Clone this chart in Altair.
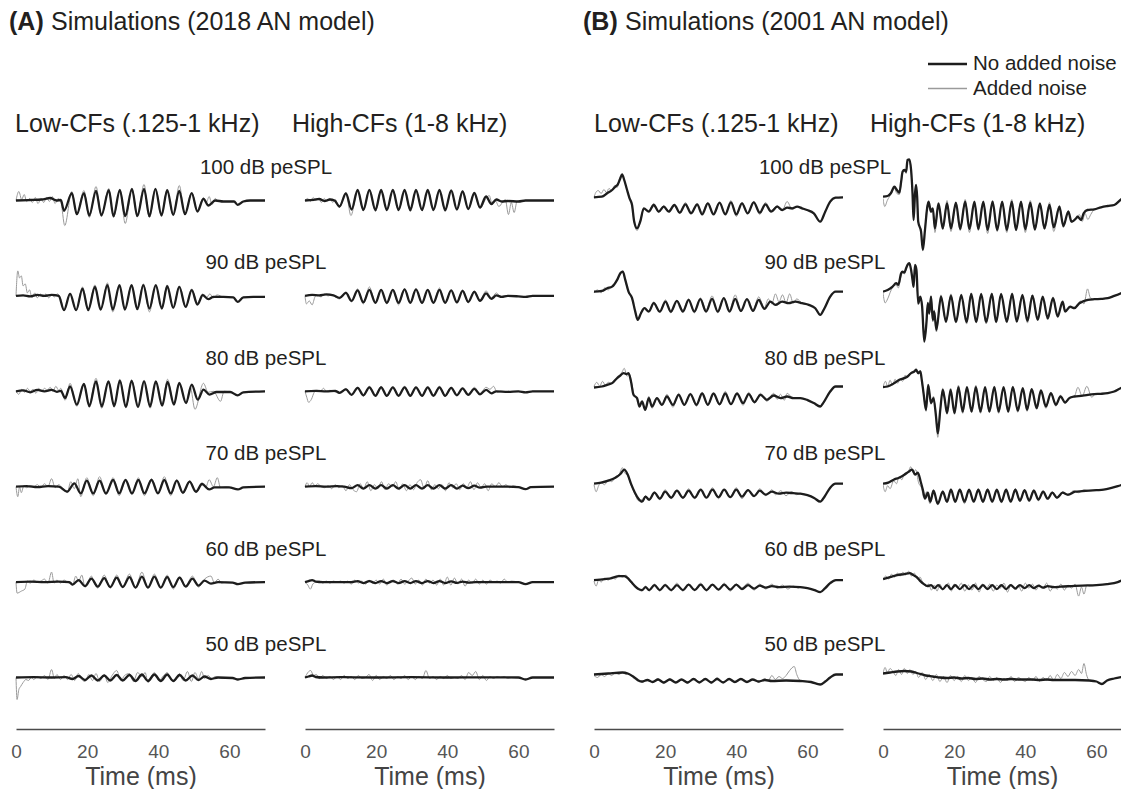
import altair as alt
import pandas as pd

FONT = "Liberation Sans"
LEVELS = [100, 90, 80, 70, 60, 50]
XTICKS = [0, 20, 40, 60]

# ---------- (A) 2018 model, low CFs: (time ms, deflection) ----------
AL100_K = [(0,0),(3.9,.5),(7.2,1),(9.6,2.5),(11.4,0),(12.6,.5),(13.5,-10.3),(15.7,7.3),(17.1,-13.7),(19.1,7.3),(20.6,-15),(22.5,9.7),(24.0,-15),(26.1,10.3),(27.4,-15.7),(29.2,10.7),(30.7,-15.7),(32.6,11.7),(34.1,-15.7),(36.0,11.7),(37.5,-15.7),(39.2,11.7),(40.9,-15),(42.5,10.3),(44.2,-14.3),(45.9,9.7),(47.5,-13.7),(49.4,7.3),(51.0,-11),(52.7,1.7),(54.1,-5),(56.0,0),(58.3,-1),(61.3,-1),(62.3,-4.3),(63.9,-1),(65.8,0),(70,0)]
AL100_G = [(0,0),(.8,9),(1.6,1),(2.3,6),(3.0,-1),(3.8,2),(4.6,-2),(5.4,3),(6.2,-3),(7.0,2),(7.8,-2),(8.6,3),(9.4,-1),(10.2,4),(11.0,-3),(11.8,2),(12.6,-1),(13.7,-25),(15.7,9),(17.1,-14),(19.1,10),(20.6,-17),(22.5,14),(24.0,-15),(26.1,12),(27.4,-17),(29.2,11),(30.7,-23),(32.6,12),(34.1,-15),(36.0,16),(37.5,-17),(39.2,12),(40.9,-15),(42.5,11),(44.2,-15),(45.9,15),(47.5,-14),(49.4,8),(51.0,-10),(52.7,3),(53.5,-2),(54.3,4),(55.1,-4),(56.0,2),(57.0,-1),(58.3,-1),(61.3,-1),(62.3,-4.3),(63.9,-1),(65.8,0),(70,0)]
AL90_K = [(0,0),(2,.5),(4,-.5),(6,1),(8,0),(10,1),(12,0),(13.5,-14.3),(15.2,2),(16.9,-14.3),(18.7,7.3),(20.3,-14.3),(22.2,9),(23.8,-13.7),(25.7,10.7),(27.2,-13.7),(29.1,10.7),(30.6,-13.7),(32.5,10.7),(34.1,-13.3),(35.8,10.7),(37.5,-12.7),(39.3,10.7),(41.0,-12.7),(42.5,9.7),(44.2,-12),(45.9,9),(47.7,-11),(49.4,5.7),(51.0,-8.7),(52.5,.7),(54.1,-3.3),(55.5,-1),(58.3,-1),(61.1,-1.5),(62.3,-6),(63.9,-1.5),(66.7,-1),(70,-1)]
AL90_G = [(0,0),(.5,25),(1.0,18),(1.5,20),(2.0,10),(2.6,12),(3.2,3),(3.8,6),(4.5,-2),(5.3,3),(6.0,-2),(6.8,2),(7.6,-1),(8.4,2),(9.2,-2),(10,1),(10.8,-1),(11.6,2),(12.4,-1),(13.5,-15),(15.2,3),(16.9,-15),(18.7,9),(20.3,-14),(22.2,11),(23.8,-14),(25.7,13),(27.2,-16),(29.1,10),(30.6,-14),(32.5,11),(34.1,-13),(35.8,12),(37.5,-16),(39.3,10),(41.0,-12),(42.5,11),(44.2,-12),(45.9,10),(47.7,-12),(49.4,7),(51.0,-7),(52.5,2),(53.5,-2),(54.5,2),(55.5,-2),(56.5,1),(58.3,-1),(61.1,-1.5),(62.3,-6),(63.9,-1.5),(66.7,-1),(70,-1)]
AL80_K = [(0,0),(2,1),(4,-1),(6,1.5),(8,0),(10,1.5),(11.5,-.5),(12.6,.5),(13.8,-6.7),(15.2,5),(17.1,-13.3),(19.1,7.3),(20.6,-15),(22.5,10),(24.1,-15),(26.0,10),(27.6,-15),(29.2,10.7),(30.9,-15.7),(32.5,10.7),(34.3,-15.7),(36.0,10),(37.7,-15),(39.3,10),(41.1,-14.3),(42.6,9.3),(44.4,-13.3),(45.9,8.3),(47.8,-11.7),(49.4,6.7),(51.1,-8.3),(52.7,1.7),(54.4,-3.3),(56.4,-.7),(60.2,-.7),(62.3,-4),(63.9,-1),(70,0)]
AL80_G = [(0,0),(.8,-3),(1.6,2),(2.4,-1),(3.2,3),(4,0),(4.8,2),(5.6,-2),(6.4,3),(7.2,0),(8,3),(8.8,1),(9.6,4),(10.4,0),(11.2,5),(12,1),(12.6,3),(13.8,-9),(15.2,8),(17.1,-15),(19.1,8),(20.6,-13),(22.5,13),(24.1,-17),(26.0,10),(27.6,-14),(29.2,12),(30.9,-16),(32.5,11),(34.3,-14),(36.0,11),(37.7,-17),(39.3,10),(41.1,-13),(42.6,12),(44.4,-12),(45.9,8),(47.8,-12),(49.0,4),(50.3,-18),(52.7,8),(54.0,-1),(55.5,0),(57.5,-10),(58.5,0),(60.2,-.7),(62.3,-4),(63.9,-1),(70,0)]
AL70_K = [(0,0),(3,.5),(6,-.5),(9,.5),(12,0),(14.4,-5),(16.4,3.3),(18.2,-6.7),(19.9,6),(21.7,-6.7),(23.5,6),(25.3,-6.7),(27.3,6.7),(29.0,-6.7),(30.8,6.7),(32.6,-6.7),(34.4,6.7),(36.1,-6.7),(38.1,6.7),(39.9,-6.7),(41.7,6.7),(43.5,-6.7),(45.2,6),(46.9,-6),(48.8,5),(50.6,-5),(52.3,2.7),(54.3,-2.7),(55.8,-.7),(59.9,-.7),(62.4,-2.7),(63.9,-.7),(70,0)]
AL70_G = [(0,0),(.5,-10),(1.0,0),(1.5,-6),(2.2,1),(3,-1),(4,1),(5,0),(6,2),(7,-1),(8,3),(9,0),(10,8),(11,-1),(12,2),(13,-1),(14.4,-6),(15.4,5),(16.4,-2),(17.4,8),(18.2,-10),(19.9,9),(21.7,-9),(23.5,10),(25.3,-8),(27.3,9),(29.0,-9),(30.8,7),(32.6,-8),(34.4,9),(36.1,-9),(38.1,8),(39.9,-7),(41.7,10),(43.5,-9),(45.2,7),(46.9,-7),(48.8,6),(50.6,-6),(52.3,4),(53.3,-1),(54.3,7),(55.5,0),(56.6,9),(57.5,-1),(59,0),(62.4,-2.7),(63.9,-.7),(70,0)]
AL60_K = [(0,0),(4,.5),(8,0),(12,.5),(15,0),(15.9,-2.5),(17.6,2),(19.4,-4),(21.2,3.5),(23.0,-4.5),(24.8,4),(26.5,-5),(28.3,4.5),(30.0,-5),(31.9,5),(33.6,-5.5),(35.4,5.5),(37.1,-5.5),(38.9,5.5),(40.7,-5.5),(42.5,5),(44.2,-5),(46.0,4.5),(47.7,-4.5),(49.6,3.5),(51.3,-3.5),(53.0,1.5),(54.8,-1.5),(56.8,0),(60.9,-.5),(62.4,-2),(64.4,-.5),(70,0)]
AL60_G = [(0,0),(.3,-11),(1.5,-9),(2.5,-7),(3.2,1),(4,-1),(5,2),(6,0),(7,1),(8,3),(9,-1),(10,10),(10.7,-1),(11.5,2),(12.5,-1),(13.5,2),(14.5,0),(15.9,-3),(16.8,6),(17.6,1),(18.5,7),(19.4,-5),(21.2,6),(22,-1),(23,-6),(24.8,7),(26.5,-6),(28.3,7),(30.0,-4),(31.9,8),(33.6,-6),(35.4,10),(37.1,-6),(38.9,8),(40.7,-6),(42.5,7),(44.2,-7),(46.0,5),(47.7,-4),(49.6,6),(51.3,-5),(53,3),(54.8,6),(55.8,-1),(56.8,3),(57.8,-1),(59,0),(60.9,-.5),(62.4,-2),(64.4,-.5),(70,0)]
AL50_K = [(0,0),(5,.3),(10,0),(14,.3),(15.9,-1.5),(17.6,1.5),(19.4,-2.5),(21.2,2),(23.0,-3),(24.8,2),(26.5,-3),(28.3,2.5),(30.0,-3),(31.9,2.5),(33.6,-3.5),(35.4,3),(37.1,-3.5),(38.9,3),(40.7,-3.5),(42.5,3),(44.2,-3.5),(46.0,2.5),(47.7,-3),(49.6,2),(51.3,-2.5),(53.0,1),(54.8,-1.5),(56.8,0),(60.9,-.5),(62.4,-2),(64.4,-.5),(70,0)]
AL50_G = [(0,0),(.3,-22),(.8,-12),(1.3,-9),(2,-5),(2.8,-2),(3.5,-3),(4.3,0),(5,-2),(6,1),(7,-1),(8,2),(9,-2),(10,8),(10.8,-1),(11.5,3),(12.5,-2),(13.5,2),(14.5,-2),(15.5,3),(16.5,-3),(17.5,4),(18.5,-2),(19.4,-4),(20.5,3),(21.5,-3),(22.5,4),(23.5,-4),(24.8,3),(25.8,-5),(27,2),(28.3,7),(29.5,-3),(30.5,2),(31.9,4),(33,-4),(34.2,5),(35.4,1),(36.3,5),(37.1,-5),(38.9,5),(40.2,-3),(41.5,2),(42.5,5),(43.5,-2),(44.5,-4),(46,4),(47,-3),(48.2,6),(49.3,-4),(50.3,5),(51.3,-1),(52.2,6),(53,-1),(54,2),(55,-1),(56,1),(57,0),(58,-1),(60,0),(62.4,-2),(64.4,-.5),(70,0)]

# ---------- (A) 2018 model, high CFs ----------
AH100_K = [(0,0),(2.5,.7),(4,1.5),(5.5,-.5),(7,1),(8.3,0),(9.7,-6),(11.5,7),(13.1,-9),(14.8,10.5),(16.4,-9.5),(18.1,10.5),(19.8,-9.5),(21.4,10.5),(23.0,-9.5),(24.7,10.5),(26.3,-9.5),(28.0,10.5),(29.6,-9.5),(31.2,10.5),(32.9,-9.5),(34.5,10.5),(36.1,-9.5),(37.8,10.5),(39.4,-9.5),(41.1,10),(42.7,-9),(44.3,9),(45.9,-8.5),(47.6,7.5),(49.2,-7),(50.9,4),(52.4,-3.5),(53.8,1),(55.3,-1),(57,-.5),(60,-1),(62,0),(70,0)]
AH100_G = [(0,0),(.8,2),(1.5,-1),(2.3,3),(3,0),(3.8,2),(4.6,-2),(5.4,2),(6.2,-1),(7,2),(7.8,-2),(8.5,1),(9.7,-7),(11.5,8),(12.9,-15),(14.8,10),(16.4,-10),(18.1,11),(19.8,-11),(21.4,10),(23.0,-10),(24.7,11),(26.3,-10),(28.0,10),(29.6,-11),(31.2,10),(32.9,-10),(34.5,11),(36.1,-9),(37.8,10),(39.4,-11),(41.1,9),(42.7,-9),(44.3,10),(45.9,-9),(47.6,6),(49.2,-8),(50.9,2),(51.8,5),(52.5,-2),(53.5,0),(54.5,-6),(55.5,-2),(56.3,1),(57.2,-14),(58.0,-2),(58.8,-12),(59.6,-1),(61,0),(70,0)]
AH90_K = [(0,0),(2,1),(4,.5),(6,1.5),(8,.5),(9.7,-2),(11.5,3),(13.1,-5),(14.8,5.5),(16.4,-6.5),(18.1,6),(19.8,-7),(21.4,6),(23.0,-7),(24.7,6),(26.3,-7),(28.0,6.5),(29.6,-7),(31.2,6.5),(32.9,-7),(34.5,6),(36.1,-7),(37.8,6),(39.4,-7),(41.1,5.5),(42.7,-6.5),(44.3,5),(45.9,-6),(47.6,4),(49.2,-5),(50.9,2.5),(52.4,-3),(53.8,.5),(55.3,-1),(57,0),(60,-.5),(62,-1),(64,0),(70,0)]
AH90_G = [(0,0),(.4,-8),(1.2,-5),(2,-9),(2.8,-1),(3.5,1),(4.5,-1),(5.5,2),(6.5,0),(7.5,1),(8.5,-1),(9.7,-3),(11.5,4),(13.1,-6),(14.8,7),(16.4,-8),(18.1,9),(19.8,-7),(21.4,6),(23.0,-8),(24.7,6),(26.3,-9),(28.0,7),(29.6,-7),(31.2,7),(32.9,-8),(34.5,6),(36.1,-7),(37.8,8),(39.4,-7),(41.1,6),(42.7,-6),(44.3,6),(45.9,-7),(47.6,5),(49.2,-4),(50.9,5),(52.4,-2),(53.8,3),(55,-1),(56.5,0),(60,-.5),(62,-1),(64,0),(70,0)]
AH80_K = [(0,0),(3,.5),(6,0),(8.5,.5),(9.7,-1.5),(11.5,2),(13.1,-3.5),(14.8,3.5),(16.4,-4),(18.1,4),(19.8,-4.5),(21.4,4),(23.0,-4.5),(24.7,4),(26.3,-4.5),(28.0,4),(29.6,-4.5),(31.2,4),(32.9,-4.5),(34.5,4),(36.1,-4.5),(37.8,4),(39.4,-4.5),(41.1,3.5),(42.7,-4),(44.3,3),(45.9,-3.5),(47.6,2.5),(49.2,-3),(50.9,1.5),(52.4,-2),(53.8,0),(57,-.5),(60,0),(62,-1),(64,0),(70,0)]
AH80_G = [(0,0),(.5,-6),(1.0,-11),(1.8,-8),(2.6,-1),(3.4,1),(4.3,0),(5.2,3),(6,0),(7,1),(8,0),(9.7,-2),(11.5,3),(13.1,-4),(14.8,4),(16.4,-5),(18.1,5),(19.8,-4),(21.4,5),(23.0,-5),(24.7,4),(26.3,-5),(28.0,5),(29.6,-4),(31.2,4),(32.9,-5),(34.5,4),(36.1,-4),(37.8,5),(39.4,-5),(41.1,4),(42.7,-4),(44.3,3),(45.9,-3),(47.6,4),(49.2,-2),(50.9,4),(52,2),(53,5),(54,-1),(55,0),(57,-.5),(60,0),(62,-1),(64,0),(70,0)]
AH70_K = [(0,0),(3,.5),(6,0),(9,.5),(11,0),(13.1,-1.5),(14.8,1.5),(16.4,-2),(18.1,1.5),(19.8,-2),(21.4,1.5),(23.0,-2),(24.7,1.5),(26.3,-2),(28.0,1.5),(29.6,-2),(31.2,1.5),(32.9,-2),(34.5,1.5),(36.1,-2),(37.8,1.5),(39.4,-2),(41.1,1.5),(42.7,-2),(44.3,1),(45.9,-1.5),(47.6,1),(49.2,-1),(51,0),(57,0),(60,-.5),(62,-2.5),(63.5,-.5),(70,0)]
AH70_G = [(0,0),(.6,4),(1.3,0),(2,4),(2.8,1),(3.6,3),(4.5,0),(5.5,-1),(6.5,1),(7.5,-2),(8.5,2),(9.5,-1),(10.5,1),(11.5,-4),(12.5,2),(13.5,-3),(14.5,-5),(15.5,3),(16.5,-2),(17.5,5),(18.5,-4),(19.5,2),(20.5,-2),(21.5,5),(22.5,-3),(23.5,3),(24.5,0),(25.5,5),(26.5,-3),(27.5,3),(28.5,-4),(29.5,2),(30.5,-3),(31.5,4),(32.5,7),(33.5,-2),(34.5,6),(35.5,-3),(36.5,2),(37.5,-2),(38.5,2),(39.5,-4),(40.5,4),(41.5,-1),(42.5,3),(43.5,-3),(44.5,3),(45.5,-1),(46.5,5),(47.5,-3),(48.5,4),(49.5,-1),(50.5,3),(51.5,-4),(52.5,3),(53.5,0),(54.5,4),(55.5,0),(56.5,2),(57.5,-1),(58.5,1),(60,-.5),(62,-2.5),(63.5,-.5),(70,0)]
AH60_K = [(0,0),(1,1),(2,2),(3,.5),(5,0),(13,0),(14.8,1),(16.4,-1),(18.1,1),(19.8,-1),(21.4,1),(23.0,-1),(24.7,1),(26.3,-1),(28.0,1),(29.6,-1),(31.2,1),(32.9,-1),(34.5,1),(36.1,-1),(37.8,1),(39.4,-1),(41.1,.8),(42.7,-.8),(44.3,.5),(46,-.5),(48,0),(60,0),(62,-2),(64,0),(70,0)]
AH60_G = [(0,0),(.8,-3),(1.5,-7),(2.2,-2),(3,0),(4,1),(5,-1),(6,1),(7,-1),(8,1),(9,0),(10,1),(11,-1),(12,1),(13,-2),(14,2),(15,-1),(16,1),(17,-2),(18,2),(19,-1),(20,2),(21,-2),(22,3),(23,-3),(24,1),(25,2),(26,-2),(27,3),(28,-2),(29,1),(30,4),(31,-2),(32,2),(33,-3),(34,3),(35,-1),(36,2),(37,-3),(38,3),(39,-3),(40,5),(41,-3),(42,4),(43,-2),(44,3),(45,-4),(46,2),(47,-1),(48,3),(49,-2),(50,2),(51,-2),(52,2),(53,0),(54,1),(55,-1),(56,3),(57,0),(58,1),(60,0),(62,-2),(64,0),(70,0)]
AH50_K = [(0,0),(1,1),(2,2),(3,.5),(5,0),(10,.3),(20,0),(30,.3),(40,0),(50,.2),(60,0),(62,-2),(64,0),(70,0)]
AH50_G = [(0,0),(.8,5),(1.6,7),(2.4,2),(3.2,3),(4,-1),(5,2),(6,-1),(7,1),(8,-2),(9,1),(10,-2),(11,2),(12,-1),(13,1),(14,-2),(15,2),(16,-1),(17,0),(18,3),(19,-3),(20,2),(21,-2),(22,1),(23,-1),(24,2),(25,-2),(26,1),(27,-1),(28,2),(29,-2),(30,1),(31,-2),(32,1),(33,-1),(34,7),(35,-1),(36,1),(37,-2),(38,1),(39,-1),(40,2),(41,-1),(42,0),(43,-1),(44,2),(45,-2),(46,5),(47,2),(48,6),(49,-2),(50,2),(51,-3),(52,1),(53,-1),(54,1),(55,0),(56,1),(57,-1),(58,0),(60,0),(62,-2),(64,0),(70,0)]

# ---------- (B) 2001 model, low CFs ----------
BL100_K = [(0,3.2),(2.2,3.8),(3.7,7.2),(5.1,10.5),(6.0,13.8),(6.7,16.2),(7.4,22.2),(7.9,26.2),(8.5,20.5),(9.3,10.5),(10.0,2.2),(10.7,-4.5),(11.3,-21),(12.1,-27.8),(13.0,-21),(14.0,-7.8),(15.4,-11.2),(16.8,-4.5),(18.2,-11.2),(19.6,-6.2),(21.0,-11.2),(22.6,-4.5),(24.1,-12.2),(25.7,-3.8),(27.3,-12.8),(29.0,-3.8),(30.4,-13.8),(32.0,-2.8),(33.6,-13.8),(35.3,-2.2),(36.9,-13.8),(38.5,-1.8),(40.0,-13.8),(41.6,-2.8),(43.2,-12.8),(44.9,-1.8),(46.6,-12.2),(48.2,-3.8),(49.8,-11.2),(51.5,-6.2),(52.9,-9.5),(54.3,-7.2),(55.7,-7.8),(57.1,-6.2),(58.5,-7.8),(59.9,-9.5),(61.8,-12.8),(63.6,-21.2),(65.0,-11.2),(66.4,-1.2),(67.9,2.8),(70,3.2)]
BL100_G = [(0,3),(.5,8),(1.2,10),(2,7),(2.8,11),(3.5,8),(4.2,12),(5,10),(5.8,15),(6.5,13),(7.2,22),(7.9,25),(8.5,20),(9.3,10),(10,2),(10.7,-5),(11.3,-22),(12.1,-30),(13.0,-22),(14.0,-8),(15.4,-10),(16.8,-3),(18.2,-12),(19.6,-5),(21.0,-10),(22.6,-5),(24.1,-13),(25.7,-2),(27.3,-13),(29.0,-5),(30.4,-12),(32.0,-2),(33.6,-14),(35.3,-3),(36.9,-13),(38.5,0),(40.0,-16),(41.6,-2),(43.2,-13),(44.9,-1),(46.6,-14),(48.2,-2),(49.8,-10),(51.5,-5),(52.9,-10),(54.3,-1),(55.7,-9),(57.1,-6),(58.5,-7.8),(59.9,-9.5),(61.8,-12.8),(63.6,-21.2),(65.0,-11.2),(66.4,-1.2),(67.9,2.8),(70,3.2)]
BL90_K = [(0,4.3),(2.2,5),(3.7,7.7),(5.1,9.3),(6.5,16),(7.4,22.7),(8.1,24.3),(8.8,16),(9.7,4.3),(10.7,-2.3),(11.6,-15.7),(12.3,-24),(13.2,-17.3),(14.2,-12.3),(15.4,-15.7),(16.8,-7.3),(18.5,-15.7),(20.1,-5.7),(21.6,-15.7),(23.3,-5),(25.0,-15.7),(26.6,-4),(28.2,-15.7),(29.9,-3.3),(31.5,-15.7),(33.2,-3),(34.8,-15.7),(36.5,-2.3),(38.1,-15.7),(39.7,-3),(41.3,-15),(43.0,-3.3),(44.7,-15),(46.3,-4),(47.9,-13),(49.6,-5.7),(51.0,-9),(52.9,-5.7),(54.7,-7.3),(56.6,-5.7),(58.5,-7.3),(60.4,-9),(62.2,-12.3),(63.6,-19),(64.8,-12.3),(66.4,-.7),(67.9,4.3),(70,4.3)]
BL90_G = [(0,3),(1,6),(2,3),(3,8),(4,6),(5,10),(6,13),(7,20),(8,25),(8.8,15),(9.7,4),(10.7,-3),(11.6,-16),(12.3,-23),(13.2,-17),(14.2,-12),(15.4,-15),(16.8,-6),(18.5,-16),(20.1,-4),(21.6,-17),(23.3,-5),(25.0,-14),(26.6,-3),(28.2,-17),(29.9,-2),(31.5,-14),(33.2,0),(34.8,-17),(36.5,-2),(38.1,-14),(39.7,1),(41.3,-16),(43.0,-3),(44.7,-14),(46.3,-1),(47.9,-12),(49.0,-3),(50,-8),(51,2),(52,-6),(53,1),(54,-7),(55,2),(56,-7),(57,-3),(58.5,-7.3),(60.4,-9),(62.2,-12.3),(63.6,-19),(64.8,-12.3),(66.4,-.7),(67.9,4.3),(70,4.3)]
BL80_K = [(0,3.8),(2.2,4.8),(3.7,6.5),(5.1,8.2),(6.5,13.2),(7.4,15.8),(8.3,18.2),(9.1,17.2),(9.7,18.2),(10.4,9.8),(11.1,-3.5),(12.1,-6.8),(12.8,-15.2),(13.5,-10.2),(14.4,-18.5),(15.4,-6.8),(16.3,-15.2),(17.7,-6.8),(19.1,-13.5),(20.5,-5.2),(22.2,-13.5),(23.8,-3.5),(25.4,-13.5),(27.1,-2.8),(28.8,-13.5),(30.4,-2.2),(32.0,-13.5),(33.6,-2.2),(35.3,-12.8),(36.9,-2.2),(38.5,-12.8),(40.2,-2.2),(41.9,-11.8),(43.5,-2.8),(45.1,-10.8),(46.8,-3.5),(48.6,-8.5),(50.5,-4.2),(52.4,-6.8),(54.3,-5.2),(56.1,-6.8),(58.0,-6.8),(59.9,-8.5),(61.8,-11.8),(63.6,-15.2),(64.6,-10.8),(66.4,-.2),(67.9,4.8),(70,4.8)]
BL80_G = [(0,5),(.8,9),(1.6,5),(2.4,10),(3.2,6),(4,9),(5,8),(6,12),(7,14),(8,20),(8.5,23),(9.3,15),(10,17),(10.6,8),(11.3,-4),(12.1,-7),(12.8,-14),(13.5,-10),(14.4,-19),(15.4,-5),(16.3,-17),(17.7,-7),(19.1,-14),(20.5,-3),(22.2,-16),(23.8,-2),(25.4,-14),(27.1,-2),(28.8,-15),(30.4,-1),(32.0,-14),(33.6,-3),(35.3,-14),(36.9,0),(38.5,-13),(40.2,-2),(41.9,-14),(43.5,-1),(45.1,-12),(46.8,-2),(48.6,-10),(50.5,-2),(51.5,-8),(52.4,-3),(53.5,-9),(54.3,-2),(56,-7),(58.0,-6.8),(59.9,-8.5),(61.8,-11.8),(63.6,-15.2),(64.6,-10.8),(66.4,-.2),(67.9,4.8),(70,4.8)]
BL70_K = [(0,3),(2,4),(4,6),(6,9),(7.5,13),(8.5,17),(9.5,12),(10.5,2),(11.5,-6),(12.5,-12),(13.5,-15),(14.5,-10),(15.5,-13),(17,-6),(18.5,-12),(20,-5),(21.7,-11),(23.3,-4),(25,-11),(26.6,-4),(28.3,-11),(30,-3),(31.6,-11),(33.3,-3),(35,-10.5),(36.6,-3),(38.3,-10.5),(40,-3),(41.6,-10),(43.3,-3.5),(45,-9.5),(46.6,-4),(48.3,-8),(50,-5),(52,-7),(54,-6),(56,-6.5),(58,-7),(60,-8.5),(62,-11.5),(63.6,-15),(64.8,-10),(66.4,-1),(67.9,3),(70,3)]
BL70_G = [(0,2),(.6,-5),(1.3,1),(2,4),(3,2),(4,7),(5,5),(6,10),(7,12),(8,19),(8.6,14),(9.5,11),(10.5,1),(11.5,-7),(12.5,-14),(13.5,-13),(14.5,-9),(15.5,-14),(17,-5),(18.5,-13),(20,-3),(21.7,-12),(23.3,-4),(25,-12),(26.6,-2),(28.3,-12),(30,-4),(31.6,-11),(33.3,-1),(35,-12),(36.6,-3),(38.3,-10),(40,-1),(41.6,-12),(43.3,-3),(45,-10),(46.6,-2),(48.3,-9),(50,-3),(51,-8),(52.5,-4),(54,-9),(55.5,-5),(57,-8),(58,-7),(60,-8.5),(62,-11.5),(63.6,-15),(64.8,-10),(66.4,-1),(67.9,3),(70,3)]
BL60_K = [(0,2),(3,3),(5,4),(7,6),(8.5,6),(9.5,4),(10.5,0),(11.5,-4),(12.5,-7),(13.5,-8),(14.5,-5),(15.5,-8),(17,-3),(18.5,-8),(20,-3),(21.7,-8),(23.3,-3),(25,-8),(26.6,-2.5),(28.3,-8),(30,-2.5),(31.6,-8),(33.3,-2.5),(35,-7.5),(36.6,-2.5),(38.3,-7.5),(40,-2.5),(41.6,-7),(43.3,-3),(45,-6.5),(46.6,-3.5),(48.3,-5.5),(50,-4),(52,-5),(55,-4.5),(58,-5),(60,-6),(62,-8),(63.6,-10),(65,-6),(66.4,-1),(68,2),(70,2)]
BL60_G = [(0,1),(.6,-4),(1.3,2),(2,0),(3,4),(4,2),(5,5),(6,3),(7,7),(8,5),(9,7),(10,1),(11,-3),(12,-6),(13.5,-9),(14.5,-4),(15.5,-9),(17,-2),(18.5,-9),(20,-2),(21.7,-9),(23.3,-1),(25,-9),(26.6,-2),(28.3,-7),(30,-1),(31.6,-9),(33.3,-3),(35,-8),(36.6,-1),(38.3,-9),(40,-2),(41.6,-6),(43.3,-1),(45,-8),(46.6,-2),(48.3,-7),(50,-2),(51.5,-6),(53,-3),(54.5,-7),(56,-4),(57.5,-6),(58,-5),(60,-6),(62,-8),(63.6,-10),(65,-6),(66.4,-1),(68,2),(70,2)]
BL50_K = [(0,3),(4,4),(8,5),(9.5,4),(11,1),(12.5,-3),(13.5,-4),(15,-2.5),(16.5,-4.5),(18,-2),(19.6,-5),(21.3,-2),(23,-5),(24.6,-2),(26.3,-5),(28,-1.5),(29.6,-5),(31.3,-1.5),(33,-5),(34.6,-1.5),(36.3,-5),(38,-1.5),(39.6,-4.5),(41.3,-1.5),(43,-4.5),(44.6,-2),(46.3,-4),(48,-2.5),(50,-3.5),(54,-3),(58,-3.5),(61,-4.5),(63.6,-7),(65,-4),(66.4,0),(68,3),(70,3)]
BL50_G = [(0,2),(1,0),(2,3),(3,1),(4,4),(5,2),(6,5),(7,3),(8,5),(9,3),(10,4),(11,0),(12.5,-4),(13.5,-5),(15,-2),(16.5,-5),(18,-1),(19.6,-6),(21.3,-1),(23,-5),(24.6,-2),(26.3,-6),(28,-1),(29.6,-4),(31.3,-2),(33,-6),(34.6,0),(36.3,-5),(38,-2),(39.6,-5),(41.3,-1),(43,-4),(44.6,-2),(46.3,-5),(48,-1),(49,-3),(50,2),(51,-2),(52,1),(53,-1),(54,2),(55,7),(56.3,11),(57,3),(58,-3),(61,-4.5),(63.6,-7),(65,-4),(66.4,0),(68,3),(70,3)]

# ---------- (B) 2001 model, high CFs ----------
BH100_K = [(0,3.8),(1.3,4.5),(2.2,7.2),(3.2,13.8),(3.9,10.5),(4.6,7.8),(5.1,18.8),(5.5,28.8),(6.0,30.5),(6.5,28.8),(6.9,40.5),(7.4,41.2),(7.9,30.5),(8.3,7.2),(8.6,-19.5),(9.0,7.2),(9.3,15.5),(9.6,3.8),(9.9,-21.2),(10.7,-31.2),(11.2,-49.5),(11.8,-29.5),(12.4,-7.8),(12.8,-1.2),(13.5,-11.2),(14.0,-7.8),(14.6,-27.8),(15.6,-2.8),(16.8,-27.8),(18.0,-2.8),(19.1,-27.8),(20.5,-2.2),(21.7,-28.5),(23.1,-1.2),(24.3,-28.5),(25.7,-1.2),(26.8,-28.5),(28.2,-1.2),(29.4,-29.5),(30.8,-1.2),(32.1,-29.5),(33.5,-1.2),(34.8,-29.5),(36.2,-1.2),(37.4,-29.5),(38.8,-1.2),(40.0,-28.8),(41.4,-2.2),(42.7,-28.8),(44.1,-2.8),(45.4,-27.8),(46.8,-4.5),(48.0,-26.8),(49.6,-6.2),(50.7,-25.5),(52.1,-11.2),(53.0,-21.2),(54.3,-17.8),(54.7,-16.2),(55.7,-19.5),(56.4,-12.8),(57.5,-9.5),(59.4,-8.8),(61.3,-6.8),(63.2,-5.5),(65.0,-4.5),(66.9,1),(68,3.5)]
BH100_G = [(0,2),(.5,-6),(1.2,0),(2.2,6),(3.2,12),(3.9,7),(4.6,6),(5.1,17),(5.5,27),(6.0,31),(6.5,27),(6.9,39),(7.4,40),(7.9,29),(8.3,5),(8.6,-18),(9.0,5),(9.3,13),(9.6,2),(9.9,-22),(10.7,-30),(11.2,-47),(11.8,-28),(12.4,-6),(12.8,-2),(13.5,-12),(14.0,-8),(14.6,-32),(15.6,-3),(16.8,-29),(18.0,0),(19.1,-31),(20.5,-2),(21.7,-30),(23.1,1),(24.3,-32),(25.7,-1),(26.8,-30),(28.2,-2),(29.4,-33),(30.8,0),(32.1,-31),(33.5,-1),(34.8,-32),(36.2,1),(37.4,-30),(38.8,-1),(40.0,-32),(41.4,0),(42.7,-30),(44.1,-3),(45.4,-29),(46.8,-2),(48.0,-31),(49.6,-5),(50.7,-27),(52.1,-10),(53.0,-22),(54.3,-18),(55.2,-14),(56.0,-21),(56.8,-13),(57.6,-19),(58.4,-14),(59.4,-9),(61.3,-6.8),(63.2,-5.5),(65.0,-4.5),(66.9,1),(68,3.5)]
BH90_K = [(0,4.3),(1.3,6),(2.7,9.3),(3.7,12.7),(4.3,11),(5.1,22.7),(5.5,24.3),(6.0,23.3),(6.5,27.7),(6.9,31),(7.4,32.7),(7.9,26),(8.3,16),(8.6,9.3),(9.0,31),(9.4,26),(9.9,-7.3),(10.5,-.7),(11.0,-10.7),(11.6,-45.7),(12.2,-27.3),(12.6,-7.3),(13.0,-17.3),(13.5,-.7),(14.0,-24),(14.4,-15.7),(15.0,-34),(16.3,-.7),(17.7,-25.7),(19.1,.3),(20.5,-26.3),(22.0,1),(23.5,-26.3),(24.8,2),(26.2,-26.3),(27.6,2),(29.0,-26.3),(30.6,2),(31.8,-26.3),(33.2,2),(34.8,-25.7),(36.3,2),(37.6,-25.7),(39.2,1),(40.6,-25),(42.0,.3),(43.5,-24),(44.9,-.7),(46.3,-22.3),(47.8,-2.3),(49.1,-20.7),(50.5,-5.7),(51.2,-15.7),(52.6,-10.7),(53.8,-12.3),(55.2,-7.3),(56.1,-5.7),(57.6,-4),(59.4,-3.3),(61.3,-3),(63.2,-2.3),(65.0,0),(66.9,2.7),(68,4.5)]
BH90_G = [(0,3),(.6,-7),(1.3,-3),(2.2,5),(3,10),(3.7,11),(4.3,8),(5.1,20),(5.5,23),(6.0,22),(6.5,26),(6.9,30),(7.4,33),(7.9,25),(8.3,15),(8.6,8),(9.0,29),(9.4,25),(9.9,-9),(10.5,-2),(11.0,-12),(11.6,-44),(12.2,-29),(12.6,-6),(13.0,-19),(13.5,0),(14.0,-26),(14.4,-14),(15.0,-36),(16.3,1),(17.7,-27),(19.1,2),(20.5,-25),(22.0,0),(23.5,-28),(24.8,3),(26.2,-25),(27.6,1),(29.0,-28),(30.6,3),(31.8,-25),(33.2,1),(34.8,-27),(36.3,3),(37.6,-24),(39.2,0),(40.6,-27),(42.0,1),(43.5,-23),(44.9,-2),(46.3,-24),(47.8,-1),(49.1,-19),(50.5,-7),(51.2,-14),(52.6,-12),(53.8,-11),(54.7,-10),(55.5,-5),(56.5,-8),(57.5,7),(58.3,-2),(59.4,-3.3),(61.3,-3),(63.2,-2.3),(65.0,0),(66.9,2.7),(68,4.5)]
BH80_K = [(0,4.2),(1.3,4.8),(3.2,8.2),(4.6,11.5),(6.0,13.2),(6.9,14.8),(7.9,18.2),(8.8,19.8),(9.3,21.5),(9.9,18.2),(10.5,19.8),(10.9,11.5),(11.4,-1.8),(12.1,-18.5),(12.7,6.5),(13.5,-11.8),(14.2,-6.8),(14.9,-25),(15.4,-42),(16.1,-18.5),(16.8,1.5),(17.3,-6.8),(18.0,-21.8),(19.0,1.5),(20.1,-21.8),(21.2,4.2),(22.4,-20.2),(23.6,4.2),(24.9,-20.2),(26.1,4.2),(27.4,-20.2),(28.7,4.2),(29.9,-20.2),(31.3,4.2),(32.5,-20.2),(33.9,4.2),(35.2,-20.2),(36.5,4.2),(37.9,-19.2),(39.3,3.2),(40.5,-18.5),(41.8,2.2),(43.2,-16.8),(44.4,.8),(45.8,-15.2),(47.2,-1.8),(48.6,-13.5),(49.9,-5.2),(51.2,-11.2),(52.4,-6.8),(53.8,-5.2),(55.7,-4.5),(57.6,-3.5),(59.4,-2.8),(61.3,-2.5),(63.2,-1.8),(65.0,-.2),(66.9,3.2),(68,4.5)]
BH80_G = [(0,4),(.7,10),(1.3,5),(2,11),(2.7,6),(3.4,12),(4.1,8),(4.8,12),(5.5,10),(6.2,16),(6.9,14),(7.9,19),(8.8,20),(9.3,23),(9.9,17),(10.5,21),(10.9,10),(11.4,-3),(12.1,-20),(12.7,5),(13.5,-13),(14.2,-5),(14.9,-27),(15.4,-46),(16.1,-20),(16.8,3),(17.3,-5),(18.0,-23),(19.0,3),(20.1,-23),(21.2,6),(22.4,-22),(23.6,3),(24.9,-21),(26.1,6),(27.4,-22),(28.7,3),(29.9,-21),(31.3,5),(32.5,-22),(33.9,3),(35.2,-21),(36.5,5),(37.9,-21),(39.3,2),(40.5,-20),(41.8,3),(43.2,-18),(44.4,0),(45.8,-17),(47.2,-1),(48.6,-15),(49.9,-4),(51.2,-12),(52.4,-6),(53.8,-5),(54.8,4),(56,-5),(57.3,5),(58.7,-6),(59.6,-3),(61.3,-2.5),(63.2,-1.8),(65.0,-.2),(66.9,3.2),(68,4.5)]
BH70_K = [(0,3),(1.5,4),(3,7),(4.5,9),(6,12),(7.2,15),(8.2,17),(9,12),(9.8,14),(10.6,5),(11.2,-3),(11.8,-12),(12.6,-6),(13.3,-15),(14.2,-4),(15.4,-17),(16.8,-5),(18,-15),(19.1,-3),(20.3,-15),(21.6,-3),(22.9,-15),(24.2,-3),(25.5,-15),(26.8,-3),(28.1,-15),(29.4,-3),(30.7,-15),(32,-3),(33.3,-15),(34.6,-3),(35.9,-15),(37.2,-3),(38.5,-14),(39.8,-3.5),(41.1,-14),(42.4,-4),(43.7,-13),(45,-5),(46.3,-12),(47.6,-6),(48.9,-11),(50.5,-6),(52,-8),(54,-5),(56,-4.5),(58,-4),(60,-3.5),(62,-3),(64,-1.5),(66,.5),(68,3)]
BH70_G = [(0,2),(.6,-5),(1.3,1),(2,-2),(3,6),(3.8,3),(4.5,10),(5.3,7),(6,13),(7,14),(7.8,20),(8.5,14),(9.2,17),(10,4),(10.8,-1),(11.5,-11),(12.3,-5),(13.2,-17),(14.2,-3),(15.4,-18),(16.8,-4),(18,-16),(19.1,-2),(20.3,-16),(21.6,-2),(22.9,-17),(24.2,-4),(25.5,-14),(26.8,-2),(28.1,-16),(29.4,-2),(30.7,-15),(32,-4),(33.3,-16),(34.6,-2),(35.9,-14),(37.2,-2),(38.5,-15),(39.8,-3),(41.1,-13),(42.4,-3),(43.7,-14),(45,-4),(46.3,-11),(47.6,-5),(48.9,-12),(50.5,-5),(52,-9),(53.5,-4),(55,-6),(56.5,-3),(58,-4),(60,-3.5),(62,-3),(64,-1.5),(66,.5),(68,3)]
BH60_K = [(0,3),(2,5),(4,7),(6,8),(7.5,9),(8.5,7),(9.5,5),(10.5,1),(11.5,-2),(12.5,-4),(13.5,-3),(14.5,-6),(15.5,-3),(16.8,-7),(18,-3),(19.1,-7),(20.3,-3),(21.6,-7),(22.9,-3),(24.2,-7),(25.5,-3),(26.8,-7),(28.1,-3),(29.4,-7),(30.7,-3),(32,-7),(33.3,-3),(34.6,-7),(35.9,-3),(37.2,-6.5),(38.5,-3),(39.8,-6),(41.1,-3),(42.4,-6),(43.7,-3.5),(45,-5.5),(46.3,-4),(48,-5),(50,-4.5),(53,-4),(56,-3.5),(60,-3),(63,-2),(66,0),(68,3)]
BH60_G = [(0,3),(.8,6),(1.6,3),(2.4,8),(3.2,5),(4,9),(4.8,6),(5.6,10),(6.4,7),(7.2,11),(8,6),(8.8,9),(9.6,3),(10.4,5),(11.2,-1),(12,-4),(12.8,-2),(13.6,-8),(14.4,-3),(15.2,-9),(16,-2),(16.8,-8),(17.6,-4),(18.4,-1),(19.2,-9),(20,-2),(21,-6),(22,-1),(23,-9),(24,-3),(25,-8),(26,-1),(27,-10),(28,-2),(29,-7),(30,-2),(31,-9),(32,-3),(33,-6),(34,-1),(35,-10),(36,-2),(37,-7),(38,-3),(39,-9),(40,-1),(41,-6),(42,-2),(43,-8),(44,-3),(45,-6),(46,-1),(47,-9),(48,-4),(49,-7),(50,-2),(51,-8),(52,-3),(53,-6),(54,-2),(55,-14),(55.8,-5),(56.5,-12),(57.3,-3),(58,-4),(60,-3),(63,-2),(66,0),(68,3)]
BH50_K = [(0,4),(2,5),(4,6),(6,6.5),(8,6),(10,4),(12,2),(14,1),(16,0),(18,-.5),(20,0),(22,-1),(24,-.5),(26,-1.5),(28,-1),(30,-2),(32,-1.5),(34,-2),(36,-1.5),(38,-2),(40,-2),(42,-2),(44,-2.5),(46,-2),(48,-2.5),(50,-2.5),(54,-2.5),(58,-3),(60,-4),(61.5,-6.5),(63,-3),(65,-1),(68,1)]
BH50_G = [(0,4),(.6,10),(1.2,5),(2,9),(2.8,6),(3.6,2),(4.4,8),(5.2,3),(6,9),(6.8,4),(7.6,8),(8.4,3),(9.2,6),(10,0),(11,5),(12,-2),(13,3),(14,-3),(15,3),(16,-4),(17,1),(18,-5),(19,2),(20,-3),(21,1),(22,-4),(23,2),(24,-3),(25,0),(26,-5),(27,1),(28,-2),(29,-4),(30,1),(31,-3),(32,0),(33,-5),(34,-1),(35,-3),(36,1),(37,-4),(38,0),(39,-2),(40,-4),(41,0),(42,-3),(43,1),(44,-4),(45,0),(46,-3),(47,2),(48,-3),(49,3),(50,-1),(51,5),(52,1),(53,6),(54,2),(55,8),(55.8,4),(56.5,14),(57.2,3),(58,-3),(60,-4),(61.5,-6.5),(63,-3),(65,-1),(68,1)]

# ---------- layout constants ----------
PANEL_W = 249          # px for 70 ms
BH_W = 238             # last panel is cut by the figure's right edge
PLOT_H = 589
BASE50 = 51.5          # px above axis of the 50 dB trace's zero line
STEP = 95.4            # px between successive levels
LABEL_UP = 32.5        # level label above trace zero line
BIG = 25               # title / header font size
MID = 20.5             # level labels / legend font size
TITLE_Y = -118


def frame(traces):
    rows = []
    for lev, pts in zip(LEVELS, traces):
        base = BASE50 + (lev - 50) / 10 * STEP
        for t, v in pts:
            rows.append({"t": t, "y": base + v, "level": lev})
    return pd.DataFrame(rows)


ONE = pd.DataFrame({"k": [0]})
YSC = alt.Scale(domain=[0, PLOT_H], nice=False, zero=False)


def xenc(tmax):
    return alt.X("t:Q", scale=alt.Scale(domain=[0, tmax], nice=False, zero=False),
                 axis=alt.Axis(
        values=XTICKS, title="Time (ms)", grid=False, ticks=False, tickSize=0,
        domainColor="#4a4a4a", domainWidth=1.7, labelFont=FONT, labelFontSize=19,
        labelColor="#555555", labelPadding=13, labelFlush=False, labelOverlap=False,
        titleFont=FONT, titleFontSize=BIG, titleFontWeight="normal", titleColor="#444444",
        titlePadding=3))


def yenc():
    return alt.Y("y:Q", scale=YSC, axis=None)


def label(text, x, y, size=MID, weight="normal", align="left", color="#231f20"):
    return alt.Chart(ONE).mark_text(
        text=text, font=FONT, fontSize=size, fontWeight=weight, align=align,
        baseline="middle", color=color).encode(x=alt.value(x), y=alt.value(y))


def panel(black, gray, extras, width=PANEL_W):
    tmax = 70 * width / PANEL_W
    clip = width < PANEL_W
    g = alt.Chart(frame(gray)).mark_line(color="#9a9a9a", strokeWidth=1.0,
                                         interpolate="monotone", clip=clip).encode(
        x=xenc(tmax), y=yenc(), detail="level:N")
    k = alt.Chart(frame(black)).mark_line(color="#1d1d1d", strokeWidth=2.3,
                                          interpolate="monotone", clip=clip).encode(
        x=xenc(tmax), y=yenc(), detail="level:N")
    return alt.layer(g, k, *extras).properties(width=width, height=PLOT_H)


def level_labels(xpix):
    df = pd.DataFrame({
        "lab": [f"{l} dB peSPL" for l in LEVELS],
        "y": [BASE50 + (l - 50) / 10 * STEP + LABEL_UP for l in LEVELS]})
    return alt.Chart(df).mark_text(font=FONT, fontSize=MID, align="center",
                                   baseline="middle", color="#231f20").encode(
        x=alt.value(xpix), y=alt.Y("y:Q", scale=YSC, axis=None), text="lab:N")


pAL = panel([AL100_K, AL90_K, AL80_K, AL70_K, AL60_K, AL50_K],
            [AL100_G, AL90_G, AL80_G, AL70_G, AL60_G, AL50_G],
            [level_labels(250),
             label("(A)", -7, TITLE_Y, size=BIG, weight="bold"),
             label("Simulations (2018 AN model)", 35, TITLE_Y, size=BIG),
             label("Low-CFs (.125-1 kHz)", -1, -16, size=BIG)])
pAH = panel([AH100_K, AH90_K, AH80_K, AH70_K, AH60_K, AH50_K],
            [AH100_G, AH90_G, AH80_G, AH70_G, AH60_G, AH50_G],
            [label("High-CFs (1-8 kHz)", -13, -16, size=BIG)])
pBL = panel([BL100_K, BL90_K, BL80_K, BL70_K, BL60_K, BL50_K],
            [BL100_G, BL90_G, BL80_G, BL70_G, BL60_G, BL50_G],
            [level_labels(231),
             label("(B)", -11, TITLE_Y, size=BIG, weight="bold"),
             label("Simulations (2001 AN model)", 31, TITLE_Y, size=BIG),
             label("Low-CFs (.125-1 kHz)", 0, -16, size=BIG)])

leg_black = alt.Chart(ONE).mark_rule(color="#1d1d1d", strokeWidth=2.6).encode(
    x=alt.value(45), x2=alt.value(84), y=alt.value(-76))
leg_gray = alt.Chart(ONE).mark_rule(color="#9a9a9a", strokeWidth=1.4).encode(
    x=alt.value(45), x2=alt.value(84), y=alt.value(-51.5))
pBH = panel([BH100_K, BH90_K, BH80_K, BH70_K, BH60_K, BH50_K],
            [BH100_G, BH90_G, BH80_G, BH70_G, BH60_G, BH50_G],
            [label("High-CFs (1-8 kHz)", -13, -16, size=BIG),
             leg_black, leg_gray,
             label("No added noise", 90, -76),
             label("Added noise", 90, -51.5)],
            width=BH_W)

chart = alt.hconcat(pAL, pAH, pBL, pBH, spacing=40, bounds="flush").properties(
    padding={"left": 1, "top": 2, "right": 0, "bottom": 0}
).configure_view(stroke=None, strokeWidth=0)

chart.save("out.html", embed_options={"renderer": "svg", "actions": False})
